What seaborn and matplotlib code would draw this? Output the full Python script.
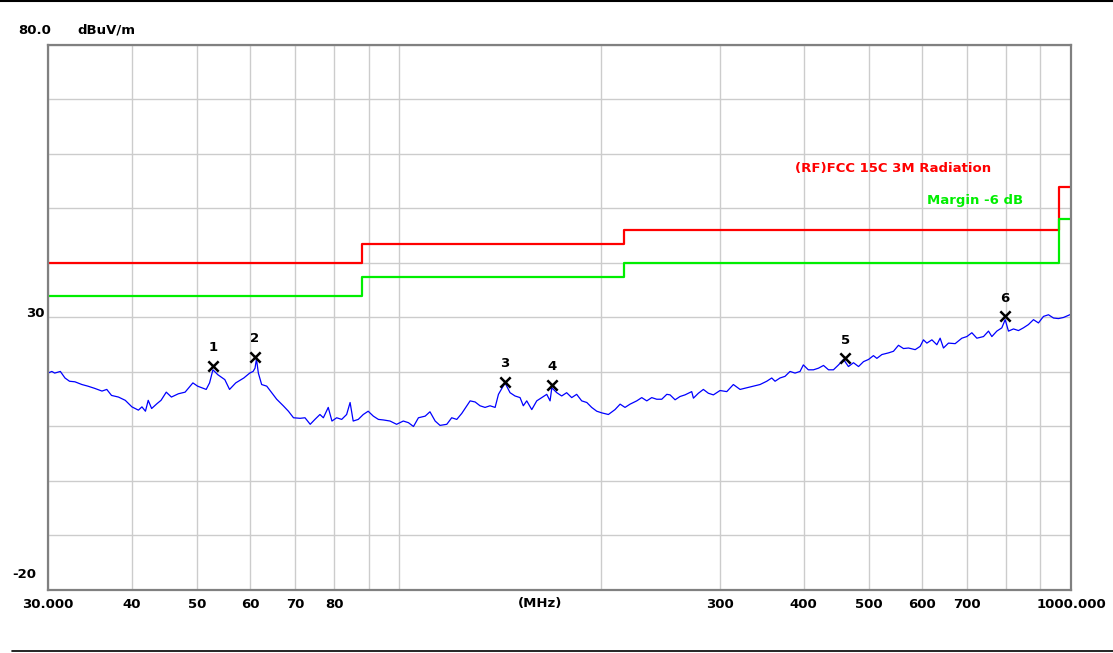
"""
Radiated emission scan (30 MHz - 1 GHz) against the FCC 15C 3 m limit.
"""

import matplotlib
matplotlib.use("Agg")
import matplotlib.pyplot as plt
import matplotlib.transforms as mtransforms
from matplotlib.lines import Line2D
import seaborn as sns

trace_freq = [
    30.0, 30.4, 30.7, 31.3, 31.8, 32.3, 32.9, 33.7, 34.4, 35.2, 36.1, 36.7, 37.3, 38.2,
    39.1, 40.0, 40.9, 41.4, 41.9, 42.3, 42.8, 43.6, 44.2, 45.0, 45.8, 46.9, 48.0, 49.3,
    50.1, 51.6, 52.2, 52.8, 53.7, 55.0, 55.9, 57.1, 58.7, 59.9, 60.6, 61.0, 61.3, 61.7,
    62.4, 63.5, 64.6, 65.7, 67.2, 68.4, 69.6, 71.2, 72.4, 73.7, 74.9, 76.2, 77.1, 78.4,
    79.4, 80.7, 82.1, 83.5, 84.5, 85.4, 86.9, 88.4, 89.9, 91.5, 93.1, 94.7, 96.9, 99.1,
    101.4, 103.2, 105.0, 106.8, 109.3, 111.1, 113.1, 115.0, 117.7, 119.7, 121.8, 123.9,
    127.5, 129.7, 131.9, 134.2, 136.5, 138.9, 140.5, 143.7, 146.2, 148.7, 151.3, 153.0,
    154.8, 157.5, 160.2, 163.0, 165.8, 167.7, 168.7, 171.6, 174.5, 177.5, 180.6, 183.7,
    186.9, 190.2, 193.4, 196.8, 200.2, 204.8, 209.5, 213.2, 216.8, 220.6, 225.7, 229.6,
    233.6, 237.6, 241.7, 245.9, 250.2,
    253.0, 257.4, 261.8, 266.3, 272.5, 274.1, 278.8, 283.6, 288.5, 293.5, 300.3, 307.3,
    314.3, 321.6, 329.1, 336.6, 344.4, 352.4, 358.5, 362.6, 368.8, 375.2, 381.7, 388.3,
    395.0, 399.5, 406.4, 413.6, 420.8, 428.1, 435.5, 442.9, 450.7, 458.5, 466.3, 474.4,
    482.7, 491.0, 499.5, 508.0,
    514.0, 522.9, 534.7, 544.1, 553.5, 563.1, 572.8, 586.1, 596.2, 603.0, 610.1, 620.7,
    631.3, 638.5, 645.8, 657.0, 672.2, 687.8, 699.7, 711.8, 724.1, 740.8, 753.6, 762.3,
    775.4, 788.8, 797.9, 807.0, 821.0, 835.1, 849.4, 864.1, 879.2, 894.3, 909.9, 925.6,
    941.7, 957.9, 974.4, 991.3, 1000.0,
]
trace_level = [
    19.8, 20.1, 19.8, 20.1, 18.9, 18.3, 18.2, 17.7, 17.4, 17.0, 16.5, 16.8, 15.7, 15.4,
    14.8, 13.6, 13.0, 13.6, 12.8, 14.8, 13.3, 14.2, 14.8, 16.3, 15.4, 16.0, 16.3, 18.0,
    17.4, 16.8, 18.0, 20.4, 19.5, 18.6, 16.8, 18.0, 18.9, 19.8, 20.1, 20.7, 22.4, 19.8,
    17.7, 17.4, 16.2, 15.0, 13.8, 12.8, 11.6, 11.5, 11.6, 10.4, 11.3, 12.2, 11.6, 13.5,
    11.0, 11.6, 11.3, 12.2, 14.4, 11.0, 11.3, 12.2, 12.8, 11.9, 11.3, 11.2, 11.0, 10.4,
    11.0, 10.7, 10.0, 11.6, 11.9, 12.7, 11.0, 10.2, 10.4, 11.6, 11.3, 12.4,
    14.7, 14.5, 13.8, 13.5, 13.8, 13.5, 15.9, 18.0, 16.2, 15.6, 15.3, 13.8,
    14.7, 13.1, 14.7, 15.3, 15.9, 14.7, 17.1, 16.2, 15.6, 16.2, 15.3, 15.9,
    14.7, 14.4, 13.5, 12.8, 12.5, 12.2, 13.1, 14.1, 13.5, 14.1, 14.7, 15.3,
    14.7, 15.3, 15.0, 15.0, 15.9,
    15.8, 14.9, 15.5, 15.8, 16.4, 15.2, 16.1, 16.8, 16.1, 15.8, 16.6, 16.4,
    17.7, 16.8, 17.1, 17.4, 17.7, 18.3, 18.9, 18.3, 18.9, 19.2, 20.1, 19.8,
    20.1, 21.3, 20.4, 20.4, 20.7, 21.2, 20.4, 20.4, 21.3, 22.3, 21.0, 21.7,
    21.0, 21.9, 22.3, 23.0,
    22.5, 23.2, 23.5, 23.8, 24.9, 24.3, 24.4, 24.1, 24.7, 25.9, 25.3, 25.9,
    25.0, 26.2, 24.4, 25.3, 25.2, 26.2, 26.5, 27.2, 26.2, 26.5, 27.5, 26.5,
    27.5, 28.1, 29.6, 27.5, 27.9, 27.6, 28.1, 28.7, 29.6, 29.0, 30.2, 30.5,
    29.9, 29.8, 30.0, 30.4, 30.6,
]

# Limit line (step-post) and the -6 dB margin
limit_freq = [30, 88, 216, 960, 1000]
limit_level = [40.0, 43.5, 46.0, 54.0, 54.0]
margin_level = [v - 6 for v in limit_level]

# Peak markers
peak_no = ["1", "2", "3", "4", "5", "6"]
peak_freq = [52.8, 61.0, 143.7, 168.7, 461.0, 798.0]
peak_level = [21.1, 22.8, 18.2, 17.7, 22.5, 30.2]

# Axis ticks
grid_freq = [30, 40, 50, 60, 70, 80, 90, 100, 200, 300, 400, 500, 600, 700, 800, 900, 1000]
grid_label = ["30.000", "40", "50", "60", "70", "80", "", "", "", "300", "400", "500",
              "600", "700", "", "", "1000.000"]
grid_level = list(range(-20, 81, 10))


def main():
    sns.set_style("white")
    plt.rcParams["font.family"] = ["DejaVu Sans"]
    plt.rcParams["font.weight"] = "bold"
    plt.rcParams["text.color"] = "black"
    plt.rcParams["xtick.color"] = "black"
    plt.rcParams["ytick.color"] = "black"

    fig = plt.figure(figsize=(11.13, 6.53), dpi=100)
    ax = fig.add_axes([0.0431, 0.0965, 0.9192, 0.8346])

    ax.set_xscale("log")
    ax.set_xlim(30, 1000)
    ax.set_ylim(-20, 80)

    ax.set_xticks(grid_freq)
    ax.set_xticklabels(grid_label, fontsize=9.5, fontweight="bold", color="black")
    ax.xaxis.set_minor_locator(plt.NullLocator())
    ax.set_yticks(grid_level)
    ax.set_yticklabels([])
    ax.tick_params(length=0, pad=6)
    ax.grid(True, color="#cccccc", linewidth=1)
    ax.set_axisbelow(True)
    for sp in ax.spines.values():
        sp.set_color("#808080")
        sp.set_linewidth(1.6)

    # limit and margin
    sns.lineplot(x=limit_freq, y=limit_level, drawstyle="steps-post", color="#ff0000",
                 linewidth=1.6, ax=ax, estimator=None, sort=False)
    sns.lineplot(x=limit_freq, y=margin_level, drawstyle="steps-post", color="#00ee00",
                 linewidth=1.6, ax=ax, estimator=None, sort=False)

    # measured trace
    sns.lineplot(x=trace_freq, y=trace_level, color="#0000ff", linewidth=0.9,
                 ax=ax, estimator=None, sort=False)

    # peaks
    sns.scatterplot(x=peak_freq, y=peak_level, marker="x", color="black", s=55,
                    linewidth=1.8, ax=ax, zorder=5)
    for n, f, v in zip(peak_no, peak_freq, peak_level):
        ax.annotate(n, (f, v), xytext=(0, 13), textcoords="offset points",
                    ha="center", va="center", fontsize=9.5, fontweight="bold",
                    color="black")

    blend = mtransforms.blended_transform_factory(ax.transAxes, ax.transData)
    ax.text(0.730, 57.4, "(RF)FCC 15C 3M Radiation", color="#ff0000", transform=blend,
            fontsize=9.5, fontweight="bold", va="center")
    ax.text(0.859, 51.4, "Margin -6 dB", color="#00ee00", transform=blend,
            fontsize=9.5, fontweight="bold", va="center")

    # y labels drawn like the analyser does
    fig.text(18 / 1113, 1 - 30 / 653, "80.0", fontsize=9.5, fontweight="bold", va="center")
    fig.text(77 / 1113, 1 - 30 / 653, "dBuV/m", fontsize=9.5, fontweight="bold", va="center")
    fig.text(45 / 1113, 1 - 313 / 653, "30", fontsize=9.5, fontweight="bold",
             va="center", ha="right")
    fig.text(36 / 1113, 1 - 575 / 653, "-20", fontsize=9.5, fontweight="bold",
             va="center", ha="right")
    ax.text(0.481, -0.0255, "(MHz)", transform=ax.transAxes, fontsize=9.5,
            fontweight="bold", ha="center", va="center")

    ax.set_xlabel("")
    ax.set_ylabel("")

    fig.add_artist(Line2D([0, 1], [0.998, 0.998], color="black", linewidth=1.5))
    fig.add_artist(Line2D([12 / 1113, 1], [1 - 651 / 653, 1 - 651 / 653],
                          color="black", linewidth=1.2))

    fig.savefig("out.png", dpi=100)


if __name__ == "__main__":
    main()
